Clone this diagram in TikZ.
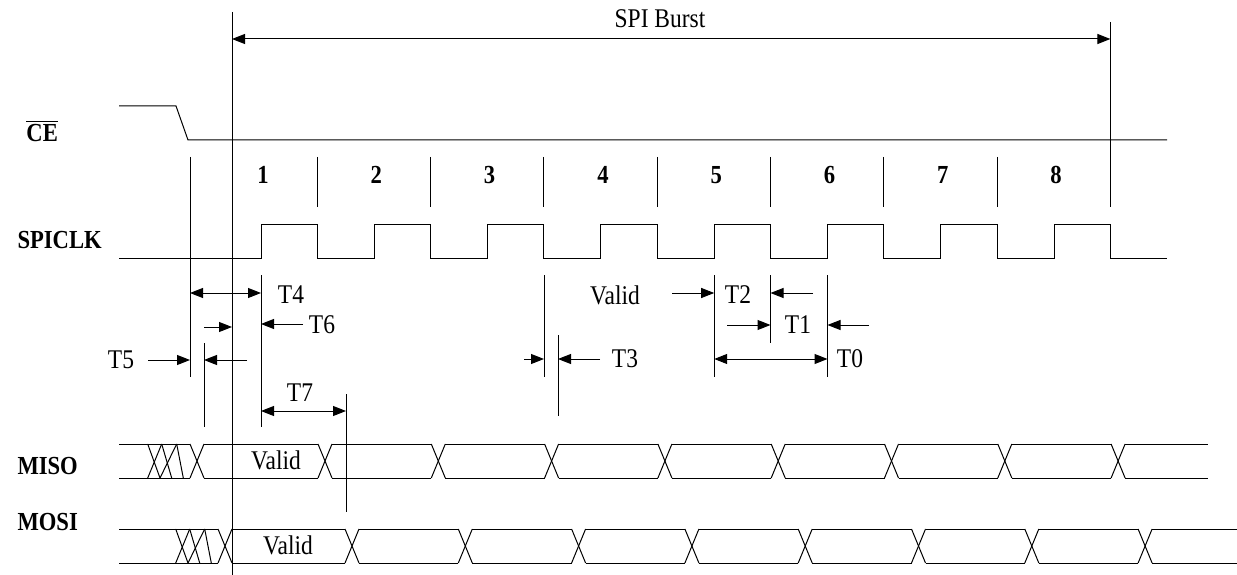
\documentclass[tikz,border=0pt]{standalone}
\usepackage{fontspec}
\setmainfont{Liberation Serif}[FakeStretch=0.87]
\usetikzlibrary{arrows.meta}
\begin{document}
\begin{tikzpicture}[x=1pt,y=-1pt,line width=1pt,
  lbl/.style={font=\fontsize{27}{30}\selectfont, inner sep=0pt},
  sig/.style={font=\fontsize{26}{28}\selectfont\bfseries, inner sep=0pt, anchor=west},
  num/.style={font=\fontsize{26}{30}\selectfont\bfseries, inner sep=0pt},
  tip/.style={-{Triangle[length=13pt,width=10pt]}},
  dtip/.style={{Triangle[length=13pt,width=10pt]}-{Triangle[length=13pt,width=10pt]}}]
\useasboundingbox (0,0) rectangle (1237,575);

% SPI burst
\draw (232,12) -- (232,575);
\draw (1110.4,22) -- (1110.4,207);
\draw[dtip] (232,39) -- (1110.4,39);
\node[lbl] (burst) at (660,19) {SPI Burst};

% CE
\draw (119,106) -- (176,106) -- (188,140) -- (1167,140);
\node[sig] (ce) at (26,131) {\vbox{\hrule height 1.3pt\kern 2pt\hbox{CE}}};

% SPICLK
\node[sig] (clk) at (17,240) {SPICLK};
\draw (119,258) \foreach \i in {0,...,7}{ -- ({261+113.3*\i},258) -- ({261+113.3*\i},224) -- ({317.3+113.3*\i},224) -- ({317.3+113.3*\i},258)} -- (1167,258);
\foreach \i in {0,...,6} \draw ({317.3+113.3*\i},157) -- ++(0,50);
\foreach \i in {1,...,8} \node[num] (n\i) at ({263+113.3*(\i-1)},175) {\i};

% timing verticals
\draw (190,157) -- (190,377);
\draw (261,275) -- (261,427);
\draw (204,343) -- (204,427);
\draw (346,394) -- (346,512);
\draw (544,275) -- (544,377);
\draw (558,335) -- (558,416);
\draw (714.2,275) -- (714.2,377);
\draw (770.5,275) -- (770.5,343);
\draw (827.5,275) -- (827.5,377);

% timing arrows
\draw[dtip] (190,293) -- (261,293);
\node[lbl] (t4) at (291,295) {T4};
\draw[tip] (303,324) -- (261,324);
\node[lbl] (t6) at (322,325) {T6};
\draw[tip] (204,327) -- (232,327);
\draw[tip] (148,360) -- (190,360);
\node[lbl] (t5) at (121,360) {T5};
\draw[tip] (247,360) -- (204,360);
\draw[dtip] (261,411) -- (346,411);
\node[lbl] (t7) at (300,393) {T7};
\draw[tip] (524,359) -- (544,359);
\draw[tip] (600,359) -- (558,359);
\node[lbl] (t3) at (625,359) {T3};
\node[lbl] (valid0) at (615,295) {Valid};
\draw[tip] (672,293) -- (714.2,293);
\node[lbl] (t2) at (738,295) {T2};
\draw[tip] (813,293) -- (770.5,293);
\draw[tip] (727,325) -- (770.5,325);
\node[lbl] (t1) at (798,325) {T1};
\draw[tip] (869,325) -- (827.5,325);
\draw[dtip] (714.2,359) -- (827.5,359);
\node[lbl] (t0) at (850,359) {T0};

% MISO
\node[sig] (miso) at (17,466) {MISO};
\foreach \a/\b in {119/190, 204/318, 332/431.3, 445.3/544.6, 558.6/657.9, 671.9/771.2, 785.2/884.5, 898.5/997.8, 1011.8/1111.1, 1125.1/1208}
  {\draw (\a,444) -- (\b,444); \draw (\a,478) -- (\b,478);}
\foreach \c in {197,325,438.3,551.6,664.9,778.2,891.5,1004.8,1118.1}
  {\draw ({\c-7},444) -- ({\c+7},478); \draw ({\c-7},478) -- ({\c+7},444);}
\node[lbl] (valid1) at (276,460) {Valid};

% MOSI
\node[sig] (mosi) at (17,522) {MOSI};
\foreach \a/\b in {119/218, 232/345, 359/458.3, 472.3/571.6, 585.6/684.9, 698.9/798.2, 812.2/911.5, 925.5/1024.8, 1038.8/1138.1, 1152.1/1237}
  {\draw (\a,529) -- (\b,529); \draw (\a,563) -- (\b,563);}
\foreach \c in {225,352,465.3,578.6,691.9,805.2,918.5,1031.8,1145.1}
  {\draw ({\c-7},529) -- ({\c+7},563); \draw ({\c-7},563) -- ({\c+7},529);}
\node[lbl] (valid2) at (288,545) {Valid};

% undefined-state crossings
\foreach \dx/\t/\b in {0/444/478, 28/529/563}{
  \draw ({147.7+\dx},\t) -- ({160+\dx},\b);
  \draw ({147.7+\dx},\b) -- ({161.7+\dx},\t);
  \draw ({161.7+\dx},\t) -- ({171.7+\dx},\b);
  \draw ({160+\dx},\b) -- ({176.7+\dx},\t);
  \draw ({176.7+\dx},\t) -- ({183.3+\dx},\b);
}
\end{tikzpicture}
\end{document}
